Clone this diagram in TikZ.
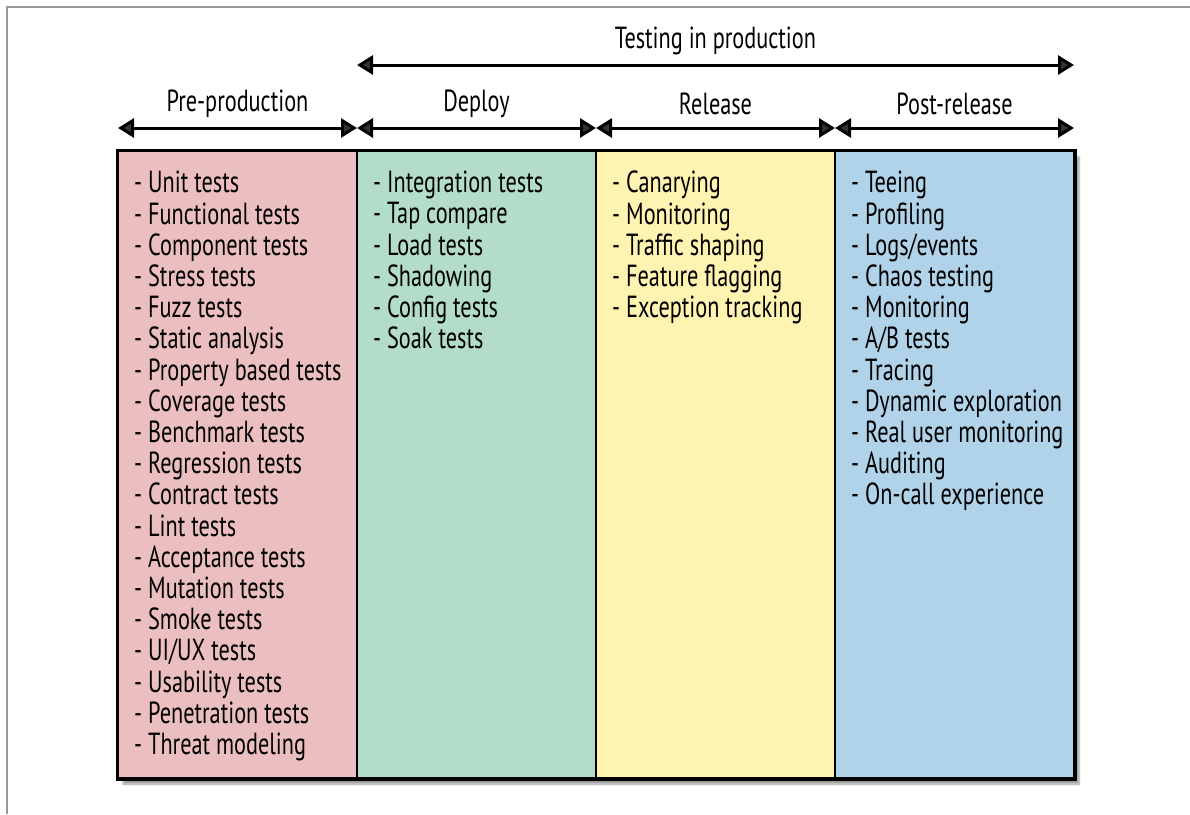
\documentclass[tikz,border=0pt]{standalone}
\usepackage{fontspec}
\setmainfont{PT Sans}[FakeStretch=0.73]
\usepackage{tikz}
\usetikzlibrary{arrows.meta,shadows.blur}

\definecolor{prepink}{RGB}{235,190,192}
\definecolor{deploygreen}{RGB}{179,221,201}
\definecolor{releaseyellow}{RGB}{254,243,176}
\definecolor{postblue}{RGB}{177,211,233}

\tikzset{
  column/.style={draw=black,line width=2pt,minimum width=239pt,minimum height=627pt,
                 inner sep=0pt,anchor=north west},
  items/.style={anchor=north west,align=left,inner sep=0pt,
                font=\fontsize{30.5}{31.2}\selectfont},
  phase/.style={line width=3pt,{Triangle[length=16pt,width=19pt]}-{Triangle[length=16pt,width=19pt]},shorten <=1pt,shorten >=1pt},
  phaselabel/.style={font=\fontsize{30.5}{31.2}\selectfont,inner sep=0pt}
}

\begin{document}
\begin{tikzpicture}[x=1pt,y=-1pt]
        \useasboundingbox (0,0) rectangle (1190,814);
        % frame
        \draw[gray!80,line width=1.5pt] (7,814) -- (7,7) -- (1190,7);
        % columns
        \fill[black,opacity=0.5,blur shadow={shadow xshift=6pt,shadow yshift=-7pt,shadow blur steps=8}]
             (117,150) rectangle (1073,777);
        \node[column,fill=prepink] (pre) at (117,150) {};
        \node[column,fill=deploygreen] (deploy) at (356,150) {};
        \node[column,fill=releaseyellow] (release) at (595,150) {};
        \node[column,fill=postblue] (post) at (834,150) {};
        \draw[line width=3pt] (pre.north west) rectangle (post.south east);
        % lists
        \node[items] (prelist) at ([xshift=17pt,yshift=-21pt]pre.north west) {%
          - Unit tests\\- Functional tests\\- Component tests\\- Stress tests\\- Fuzz tests\\
          - Static analysis\\- Property based tests\\- Coverage tests\\- Benchmark tests\\
          - Regression tests\\- Contract tests\\- Lint tests\\- Acceptance tests\\
          - Mutation tests\\- Smoke tests\\- UI/UX tests\\- Usability tests\\
          - Penetration tests\\- Threat modeling};
        \node[items] (deploylist) at ([xshift=17pt,yshift=-21pt]deploy.north west) {%
          - Integration tests\\- Tap compare\\- Load tests\\- Shadowing\\- Config tests\\- Soak tests};
        \node[items] (releaselist) at ([xshift=17pt,yshift=-21pt]release.north west) {%
          - Canarying\\- Monitoring\\- Traffic shaping\\- Feature flagging\\- Exception tracking};
        \node[items] (postlist) at ([xshift=17pt,yshift=-21pt]post.north west) {%
          - Teeing\\- Profiling\\- Logs/events\\- Chaos testing\\- Monitoring\\- A/B tests\\
          - Tracing\\- Dynamic exploration\\- Real user monitoring\\- Auditing\\- On-call experience};
        % phase arrows
        \foreach \col/\name in {pre/Pre-production,deploy/Deploy,release/Release,post/Post-release}{
          \draw[phase] ([yshift=22pt]\col.north west) -- ([yshift=22pt]\col.north east)
              node[phaselabel,midway,yshift=24pt] (\col-label) {\name};
        }
        \draw[phase] ([yshift=85pt]deploy.north west) -- ([yshift=85pt]post.north east)
              node[phaselabel,midway,yshift=24pt] (prod-label) {Testing in production};
\end{tikzpicture}
\end{document}
